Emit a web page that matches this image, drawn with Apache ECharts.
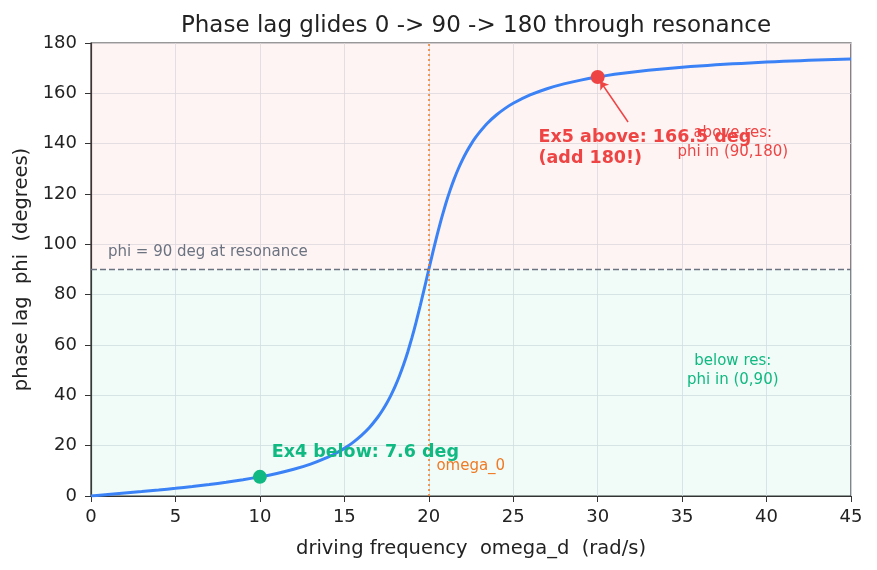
<!DOCTYPE html>
<html>
<head>
<meta charset="utf-8">
<script src="https://cdn.jsdelivr.net/npm/echarts@6/dist/echarts.min.js"></script>
<style>
  html, body { margin: 0; padding: 0; background: #fff; }
  #chart { width: 877px; height: 570px; }
</style>
</head>
<body>
<div id="chart"></div>
<script>
// driving frequency (rad/s) and phase lag (deg)
const omegaD = [0, 1, 2, 3, 4, 5, 6, 7, 8, 9, 10, 11, 12, 13, 14, 14.5, 15, 15.5, 16, 16.5, 17, 17.25, 17.5, 17.75, 18, 18.25, 18.5, 18.75, 19, 19.25, 19.5, 19.75,
  20, 20.25, 20.5, 20.75, 21, 21.25, 21.5, 21.75, 22, 22.25, 22.5, 22.75, 23, 23.5, 24, 24.5, 25, 26, 27, 28, 29, 30, 31, 32, 33, 34, 35, 36, 37, 38, 39, 40, 41, 42, 43, 44, 45];
const phiDeg = [0, 0.57, 1.16, 1.76, 2.39, 3.05, 3.77, 4.56, 5.44, 6.44, 7.59, 8.96, 10.62, 12.69, 15.35, 17.0, 18.92, 21.21, 23.96, 27.32, 31.49, 33.96, 36.75, 39.89, 43.45, 47.48, 52.03, 57.14, 62.83, 69.08, 75.79, 82.83,
  90, 97.08, 103.87, 110.21, 116.02, 121.24, 125.9, 130.03, 133.67, 136.89, 139.73, 142.26, 144.5, 148.31, 151.39, 153.92, 156.04, 159.35, 161.83, 163.74, 165.26, 166.5, 167.54, 168.41, 169.15, 169.8, 170.37, 170.87, 171.32, 171.72, 172.08, 172.41, 172.7, 172.98, 173.23, 173.46, 173.68];

const omega0 = 20;
const ex4 = [10, 7.6];
const ex5 = [30, 166.5];
const xTicks = [0, 5, 10, 15, 20, 25, 30, 35, 40, 45];
const yTicks = [0, 20, 40, 60, 80, 100, 120, 140, 160, 180];

const chart = echarts.init(document.getElementById('chart'));
const font = 'DejaVu Sans';

const option = {
  animation: false,
  textStyle: { fontFamily: font },
  title: {
    text: 'Phase lag glides 0 -> 90 -> 180 through resonance',
    left: 471, top: 10, textAlign: 'center',
    textStyle: { fontFamily: font, fontSize: 23, fontWeight: 'normal', color: '#222' }
  },
  grid: { left: 91, right: 26, top: 43, bottom: 74, show: true, borderColor: '#333', borderWidth: 1.2, backgroundColor: 'transparent' },
  xAxis: {
    type: 'value', min: 0, max: 45, interval: 5,
    name: 'driving frequency  omega_d  (rad/s)', nameLocation: 'middle', nameGap: 43,
    nameTextStyle: { fontFamily: font, fontSize: 19.5, color: '#222' },
    axisLine: { show: true, lineStyle: { color: '#333', width: 1.2 } },
    axisTick: { show: true, length: 6, lineStyle: { color: '#333' } },
    axisLabel: { fontFamily: font, fontSize: 18, color: '#222', margin: 12, formatter: v => xTicks.includes(v) ? String(v) : '' },
    splitLine: { show: true, lineStyle: { color: '#dde1e6', width: 0.8 } }
  },
  yAxis: {
    type: 'value', min: 0, max: 180, interval: 20,
    name: 'phase lag  phi  (degrees)', nameLocation: 'middle', nameGap: 58,
    nameTextStyle: { fontFamily: font, fontSize: 19.5, color: '#222' },
    axisLine: { show: true, lineStyle: { color: '#333', width: 1.2 } },
    axisTick: { show: true, length: 6, lineStyle: { color: '#333' } },
    axisLabel: { fontFamily: font, fontSize: 18, color: '#222', margin: 14, formatter: v => yTicks.includes(v) ? String(v) : '' },
    splitLine: { show: true, lineStyle: { color: '#dde1e6', width: 0.8 } }
  },
  series: [
    {
      type: 'line', name: 'bands', data: [], silent: true,
      markArea: {
        silent: true,
        data: [
          [{ yAxis: 90, itemStyle: { color: 'rgba(239,68,68,0.06)' } }, { yAxis: 180 }],
          [{ yAxis: 0, itemStyle: { color: 'rgba(16,185,129,0.06)' } }, { yAxis: 90 }]
        ]
      },
      markLine: {
        silent: true, symbol: 'none', label: { show: false },
        data: [
          { yAxis: 90, lineStyle: { color: '#6b7280', type: [6, 3], width: 1.3 } },
          { xAxis: omega0, lineStyle: { color: '#f07a24', type: [2, 3], width: 1.5 } }
        ]
      }
    },
    {
      type: 'line', name: 'phi', smooth: 0.2, showSymbol: false,
      data: omegaD.map((w, i) => [w, phiDeg[i]]),
      lineStyle: { color: '#3b82f6', width: 3 }, z: 3
    },
    {
      type: 'scatter', symbolSize: 14, z: 4,
      data: [
        { value: ex4, itemStyle: { color: '#10b981', opacity: 1 } },
        { value: ex5, itemStyle: { color: '#ef4444', opacity: 1 } }
      ],
      markLine: {
        silent: true, symbol: ['none', 'arrow'], symbolSize: 8, label: { show: false },
        lineStyle: { color: '#ef4444', width: 1.5, type: 'solid' },
        data: [[{ coord: [31.8, 148.6] }, { coord: [30.15, 164.8] }]]
      }
    }
  ]
};
chart.setOption(option);

const px = (x, y) => chart.convertToPixel({ gridIndex: 0 }, [x, y]);
const texts = [
  { at: [1.0, 97], text: 'phi = 90 deg at resonance', color: '#6b7280', size: 15, weight: 'normal', align: 'left' },
  { at: [26.5, 138.2], text: 'Ex5 above: 166.5 deg\n(add 180!)', color: '#ef4444', size: 17.5, weight: 'bold', align: 'left', lh: 21 },
  { at: [38.0, 140.3], text: 'above res:\nphi in (90,180)', color: '#ef4444', size: 15, weight: 'normal', align: 'center', lh: 19 },
  { at: [38.0, 50.0], text: 'below res:\nphi in (0,90)', color: '#10b981', size: 15, weight: 'normal', align: 'center', lh: 19 },
  { at: [10.7, 17.5], text: 'Ex4 below: 7.6 deg', color: '#10b981', size: 17.5, weight: 'bold', align: 'left' },
  { at: [20.45, 11.9], text: 'omega_0', color: '#f07a24', size: 15, weight: 'normal', align: 'left' }
];
chart.setOption({
  graphic: texts.map(t => {
    const p = px(t.at[0], t.at[1]);
    return {
      type: 'text', x: p[0], y: p[1], z: 10,
      style: {
        text: t.text, fill: t.color, font: t.weight + ' ' + t.size + 'px ' + font,
        textAlign: t.align, textVerticalAlign: 'middle', lineHeight: t.lh || t.size + 4
      }
    };
  })
});
</script>
</body>
</html>
